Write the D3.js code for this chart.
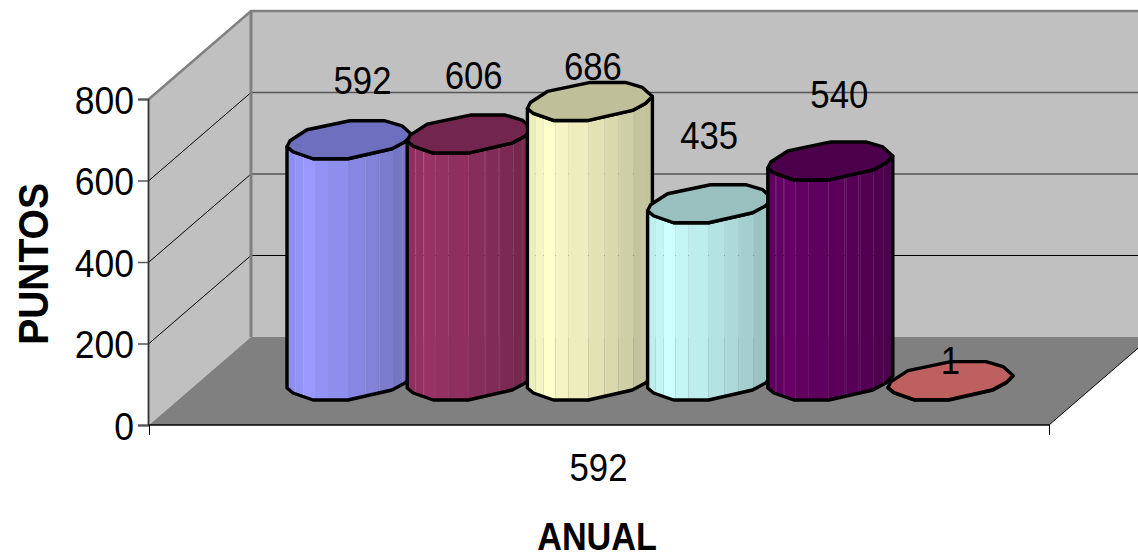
<!DOCTYPE html>
<html>
<head>
<meta charset="utf-8">
<script src="https://cdn.jsdelivr.net/npm/d3@7"></script>
<style>
html,body{margin:0;padding:0;background:#fff;overflow:hidden}
svg{display:block}
text{font-family:"Liberation Sans",Arial,sans-serif;fill:#000}
</style>
</head>
<body>
<svg id="chart" width="1138" height="558"></svg>
<script>
// Chart values
const seriesValues = [592, 606, 686, 435, 540, 1];
const seriesColors = ["#9999FF", "#993366", "#FFFFCC", "#CCFFFF", "#660066", "#FF8080"];
const topColors = ["#6F6FBF", "#73264D", "#BFBF99", "#99BFBF", "#4C004C", "#BF6060"];
const yTicks = [0, 200, 400, 600, 800];
const categoryLabel = "592";
const xTitle = "ANUAL";
const yTitle = "PUNTOS";

// Layout of the oblique 3D box
const W = 1138, H = 558;
const front = {left: 149, right: 1049, bottom: 425, top: 99};
const depth = {x: 102, y: -88};
const floorLift = 25;             // bars stand this far above the front floor edge
const glyphSqueeze = 0.89;
const labelLift = [65, 64, 40, 74, 72, 26];
const labelShift = [13, 4, 3, -1, 9, 0];

// Footprint of a column: a flattened polygon, split into its near and far arcs
const nearArc = [[0,12],[6,7],[26,0],[61,0],[105,10],[118,17],[125,24]];
const farArc = [[125,24],[115,33],[98,38],[63,38],[20,29],[3,18],[0,12]];
// Facet boundaries and shading across the column's face
const facetEdges = [0,8,16,28,41,61,77,91,106,126];
const facetShade = [0.93,0.96,1,0.96,0.93,0.885,0.85,0.81,0.765];
const facetGlints = [8,16,78,92,115];

const svg = d3.select("#chart");
const y = d3.scaleLinear().domain([0, 800]).range([front.bottom, front.top]);
const x = d3.scaleLinear().domain([0, seriesValues.length - 1]).range([287, 888]);
const barY = v => y(v) - floorLift;
const line = d3.line();
const shade = (c, k) => { const o = d3.rgb(c); return d3.rgb(o.r*k, o.g*k, o.b*k).formatHex(); };

const wall = svg.append("g");
// Left wall, back wall and floor
wall.append("path").attr("fill", "#C0C0C0").attr("d", line([
  [front.left, y(800)], [front.left+depth.x, y(800)+depth.y],
  [front.left+depth.x, y(0)+depth.y], [front.left, y(0)]]));
wall.append("path").attr("fill", "#C0C0C0").attr("d", line([
  [front.left+depth.x, y(800)+depth.y], [front.right+depth.x, y(800)+depth.y],
  [front.right+depth.x, y(0)+depth.y], [front.left+depth.x, y(0)+depth.y]]));
wall.append("path").attr("fill", "#808080").attr("d", line([
  [front.left, y(0)], [front.right, y(0)],
  [front.right+depth.x, y(0)+depth.y], [front.left+depth.x, y(0)+depth.y]]));

// Gridlines run across the left wall and along the back wall
yTicks.filter(t => t > 0 && t < 800).forEach(t => {
  const col = t === 200 ? "#000" : "#555";
  const w = t === 200 ? 1 : 1.5;
  wall.append("path").attr("fill", "none").attr("stroke", "#000").attr("stroke-width", 1)
    .attr("d", line([[front.left, y(t)], [front.left+depth.x, y(t)+depth.y]]));
  wall.append("path").attr("fill", "none").attr("stroke", col).attr("stroke-width", w)
    .attr("d", line([[front.left+depth.x, y(t)+depth.y], [front.right+depth.x, y(t)+depth.y]]));
});
// Wall borders
const edge = (pts, w, c) => wall.append("path").attr("fill", "none").attr("stroke", c)
  .attr("stroke-width", w).attr("d", line(pts));
edge([[front.left, y(800)], [front.left+depth.x, y(800)+depth.y], [front.right+depth.x, y(800)+depth.y]], 2.5, "#808080");
edge([[front.left+depth.x, y(800)+depth.y], [front.left+depth.x, y(0)+depth.y]], 3, "#808080");
edge([[front.right, y(0)], [front.right+depth.x, y(0)+depth.y]], 1, "#000");

// Columns, painted left to right so each one overlaps its neighbour
const defs = svg.append("defs");
seriesValues.forEach((v, i) => {
  const x0 = x(i), base = barY(0), top = barY(v);
  const place = (arc, yy) => arc.map(p => [x0 + p[0], yy - p[1]]);
  const body = [...place(nearArc, base), ...place(nearArc, top).reverse()];
  const g = svg.append("g");
  const id = "face" + i;
  defs.append("clipPath").attr("id", id).append("path").attr("d", line(body) + "Z");
  const faces = g.append("g").attr("clip-path", `url(#${id})`);
  facetShade.forEach((k, j) => {
    faces.append("rect").attr("x", x0 + facetEdges[j]).attr("y", top - 40)
      .attr("width", facetEdges[j+1] - facetEdges[j]).attr("height", base - top + 60)
      .attr("fill", shade(seriesColors[i], k));
  });
  facetGlints.forEach(o => {
    faces.append("rect").attr("x", x0 + o).attr("y", top - 40).attr("width", 1)
      .attr("height", base - top + 60).attr("fill", "#fff").attr("opacity", 0.1);
  });
  g.append("path").attr("d", line(body) + "Z").attr("fill", "none")
    .attr("stroke", "#000").attr("stroke-width", 3.4).attr("stroke-linejoin", "round");
  g.append("path").attr("d", line([...place(nearArc, top), ...place(farArc, top).slice(1)]) + "Z")
    .attr("fill", topColors[i]).attr("stroke", "#000").attr("stroke-width", 3.4)
    .attr("stroke-linejoin", "round");
});

// Front edge and axes
svg.append("path").attr("fill", "none").attr("stroke", "#000").attr("stroke-width", 1.5)
  .attr("d", line([[front.left, y(0)], [front.right, y(0)]]));
const squeezed = (tx, ty, sx, rot) => `translate(${tx},${ty}) scale(${sx},1)` + (rot ? ` rotate(${rot})` : "");

const yAxis = svg.append("g").attr("transform", `translate(${front.left - 1},0)`)
  .call(d3.axisLeft(y).tickValues(yTicks).tickSize(10).tickPadding(5).tickFormat(d3.format("d")));
yAxis.select(".domain").attr("stroke", "#333").attr("stroke-width", 1.8);
yAxis.selectAll(".tick line").attr("stroke", "#555").attr("stroke-width", 1.5);
yAxis.selectAll(".tick text").attr("x", null).attr("dy", null)
  .attr("text-anchor", "end").attr("font-size", 39).style("font-family", '"Liberation Sans",Arial,sans-serif')
  .attr("transform", squeezed(-14, 14, 0.91));

const xAxis = svg.append("g").attr("transform", `translate(0,${front.bottom})`)
  .call(d3.axisBottom(d3.scaleLinear().domain([0,1]).range([front.left, front.right]))
    .tickValues([0,1]).tickSize(10).tickFormat(""));
xAxis.select(".domain").remove();
xAxis.selectAll(".tick line").attr("stroke", "#000").attr("stroke-width", 1);

const addText = (txt, tx, ty, opts = {}) => svg.append("text").text(txt)
  .attr("text-anchor", "middle").attr("font-size", opts.size || 39)
  .attr("font-weight", opts.bold ? "bold" : null)
  .attr("transform", squeezed(tx, ty, opts.sx || glyphSqueeze, opts.rot));

seriesValues.forEach((v, i) => {
  addText(String(v), x(i) + 62.5 + labelShift[i], barY(v) - labelLift[i]);
});
addText(categoryLabel, 598.5, 481);
addText(xTitle, 597, 549.5, {bold: true, size: 38, sx: 0.9});
addText(yTitle, 47.5, 264, {bold: true, rot: -90, sx: 1.08});
</script>
</body>
</html>
